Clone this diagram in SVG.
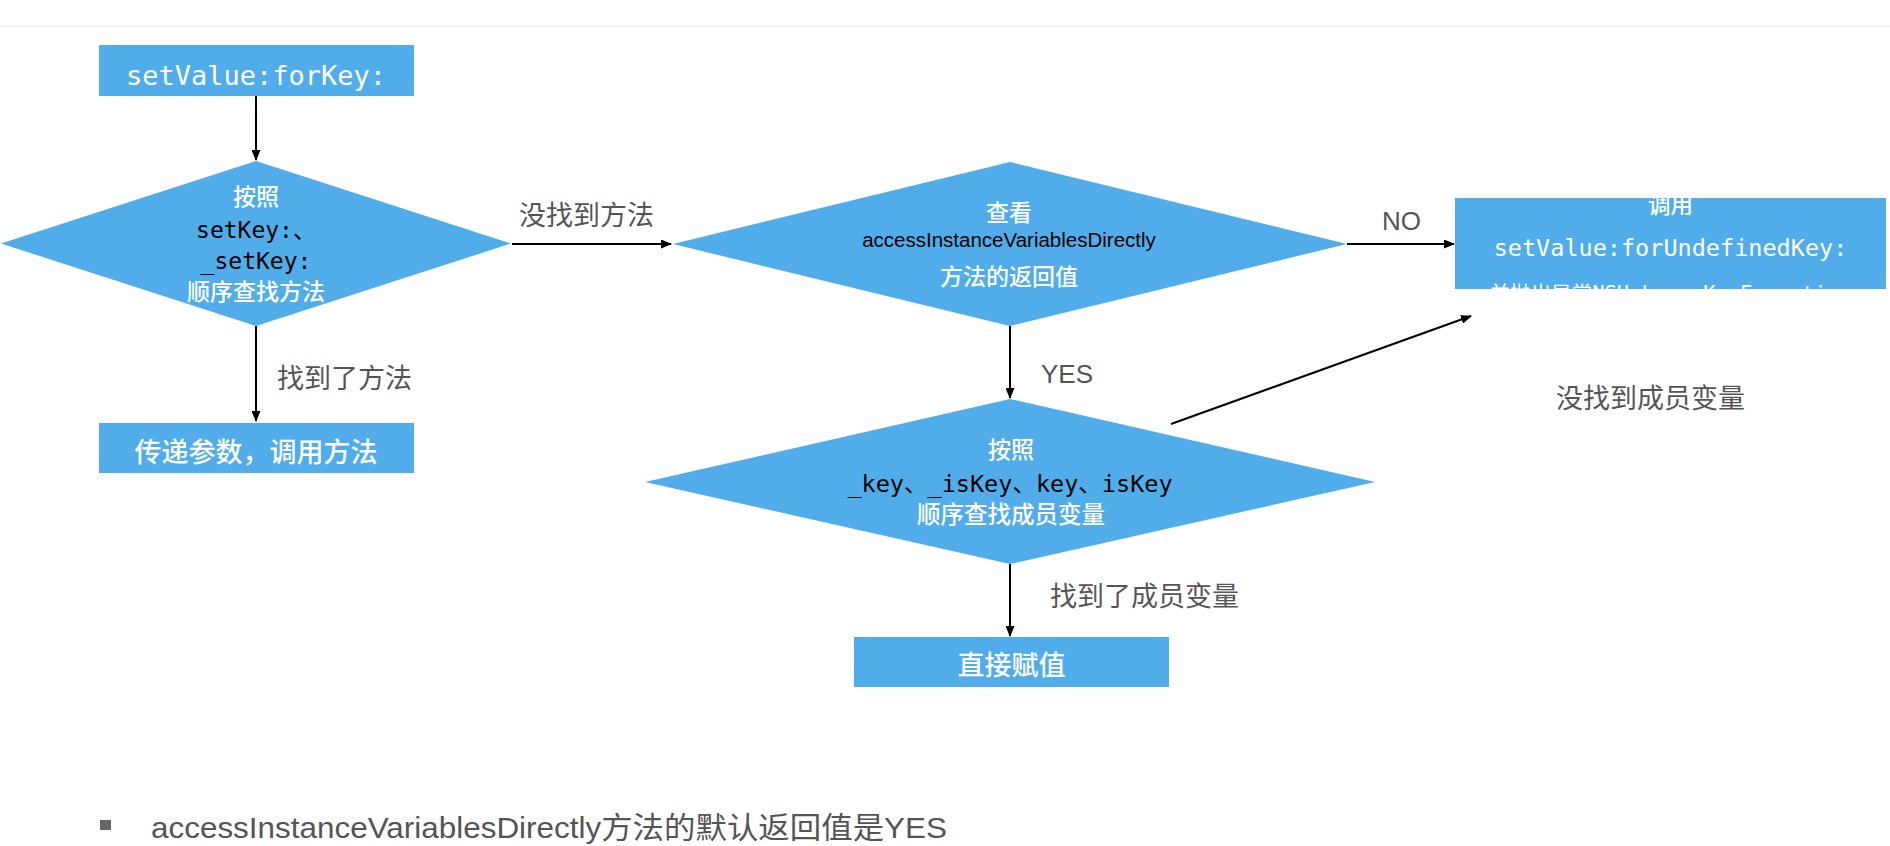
<svg xmlns="http://www.w3.org/2000/svg" width="1890" height="846" viewBox="0 0 1890 846">
<style>
.shape{fill:#50ADEA;}
.cjkw{font-family:"Noto Sans CJK SC",sans-serif;fill:#ffffff;text-anchor:middle;font-weight:500;}
.monow{font-family:"DejaVu Sans Mono","Noto Sans CJK SC",monospace;fill:#ffffff;text-anchor:middle;}
.monob{font-family:"DejaVu Sans Mono","Noto Sans CJK SC",monospace;fill:#000000;text-anchor:middle;}
.latb{font-family:"Liberation Sans","Noto Sans CJK SC",sans-serif;fill:#000000;text-anchor:middle;}
.lbl{font-family:"Liberation Sans","Noto Sans CJK SC",sans-serif;fill:#555555;}
.conn{stroke:#000000;stroke-width:2;fill:none;marker-end:url(#arr);}
</style>
<defs>
<marker id="arr" markerUnits="userSpaceOnUse" markerWidth="11" markerHeight="9" refX="10" refY="4.5" orient="auto">
<path d="M0,0 L11,4.5 L0,9 z" fill="#000000"/>
</marker>
<clipPath id="clip3"><rect x="1455" y="198" width="431" height="91"/></clipPath>
</defs>
<rect x="0" y="0" width="1890" height="846" fill="#ffffff"/>
<rect x="0" y="25" width="1890" height="2.5" fill="#f3f3f3"/>

<g id="connectors">
<line class="conn" x1="256" y1="96" x2="256" y2="160"/>
<line class="conn" x1="256" y1="326" x2="256" y2="421"/>
<line class="conn" x1="512" y1="244" x2="671" y2="244"/>
<line class="conn" x1="1347" y1="244" x2="1454" y2="244"/>
<line class="conn" x1="1010" y1="326" x2="1010" y2="398"/>
<line class="conn" x1="1171" y1="424" x2="1471" y2="316"/>
<line class="conn" x1="1010" y1="564" x2="1010" y2="636"/>
<text class="lbl" x="277" y="388" font-size="27">找到了方法</text>
<text class="lbl" x="519" y="225" font-size="27">没找到方法</text>
<text class="lbl" x="1382" y="230" font-size="26">NO</text>
<text class="lbl" x="1041" y="383" font-size="26">YES</text>
<text class="lbl" x="1556" y="408" font-size="27">没找到成员变量</text>
<text class="lbl" x="1050" y="606" font-size="27">找到了成员变量</text>
</g>

<g id="node-setValueForKey">
<rect class="shape" x="99" y="45" width="315" height="51"/>
<text class="monow" x="256" y="85" font-size="27">setValue:forKey:</text>
</g>

<g id="node-find-setter">
<polygon class="shape" points="256,161 511,243.5 256,326 1,243.5"/>
<text class="cjkw" x="256" y="205" font-size="23">按照</text>
<text class="monob" x="256" y="238" font-size="23">setKey:、</text>
<text class="monob" x="256" y="269" font-size="23">_setKey:</text>
<text class="cjkw" x="256" y="300" font-size="23">顺序查找方法</text>
</g>

<g id="node-call-method">
<rect class="shape" x="99" y="423" width="315" height="50"/>
<text class="cjkw" x="256" y="462" font-size="27">传递参数，调用方法</text>
</g>

<g id="node-check-access">
<polygon class="shape" points="1010,162 1347,244 1010,326 673,244"/>
<text class="cjkw" x="1009" y="221" font-size="23">查看</text>
<text class="latb" x="1009" y="247" font-size="20.5">accessInstanceVariablesDirectly</text>
<text class="cjkw" x="1009" y="285" font-size="23">方法的返回值</text>
</g>

<g id="node-undefined-key">
<rect class="shape" x="1455" y="198" width="431" height="91"/>
<g clip-path="url(#clip3)">
<text class="cjkw" x="1670.5" y="213" font-size="22.5">调用</text>
<text class="monow" x="1670.5" y="256" font-size="23.5">setValue:forUndefinedKey:</text>
<text class="monow" x="1670.5" y="301" font-size="20.5">并抛出异常NSUnknownKeyException</text>
</g>
</g>

<g id="node-find-ivar">
<polygon class="shape" points="1010,399 1375,482 1010,564 645,482"/>
<text class="cjkw" x="1011" y="458" font-size="23">按照</text>
<text class="monob" x="1010" y="492" font-size="23.5">_key、_isKey、key、isKey</text>
<text class="cjkw" x="1011" y="523" font-size="23.5">顺序查找成员变量</text>
</g>

<g id="node-assign">
<rect class="shape" x="854" y="637" width="315" height="50"/>
<text class="cjkw" x="1011.5" y="675" font-size="27">直接赋值</text>
</g>

<g id="note">
<rect x="100" y="820" width="11" height="10" fill="#666666"/>
<text class="lbl" x="151" y="838" font-size="30" textLength="796" lengthAdjust="spacingAndGlyphs">accessInstanceVariablesDirectly方法的默认返回值是YES</text>
</g>
</svg>
